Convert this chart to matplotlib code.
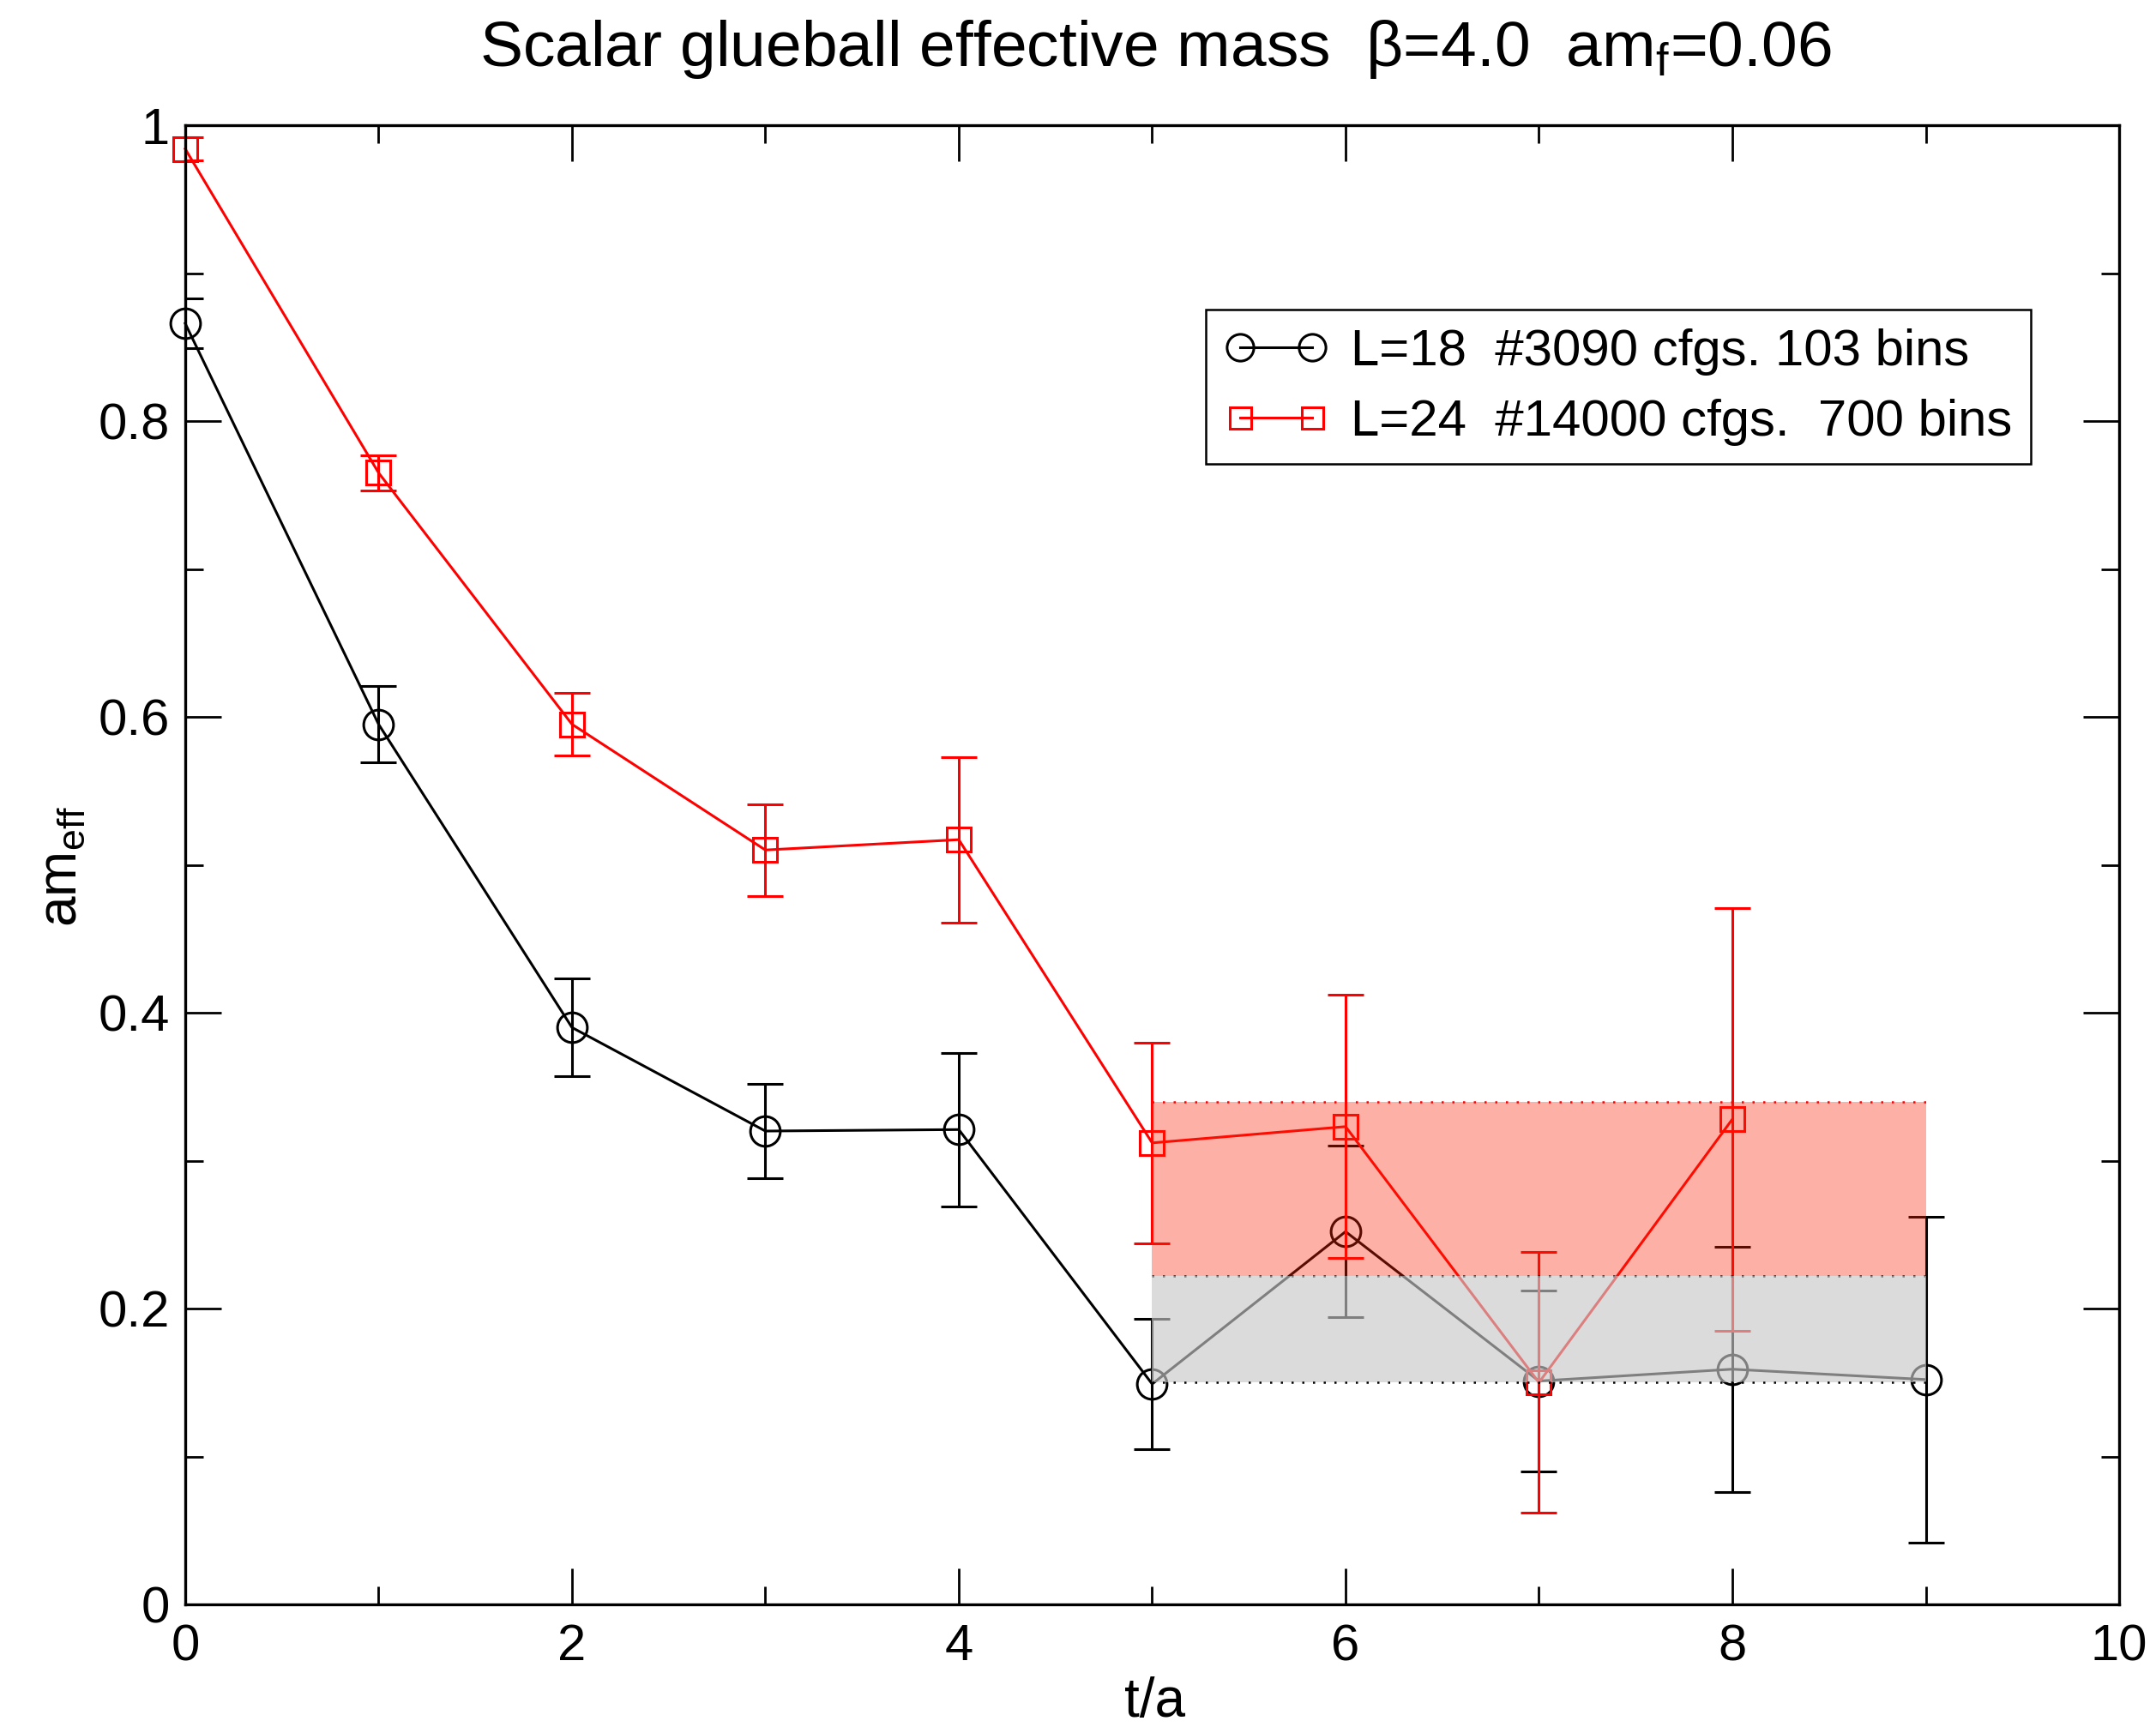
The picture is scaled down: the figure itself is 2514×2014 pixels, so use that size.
import numpy as np
import matplotlib
matplotlib.use('Agg')
import matplotlib.pyplot as plt
from matplotlib.ticker import MultipleLocator, FuncFormatter

plt.rcParams['font.family'] = ['Liberation Sans', 'DejaVu Sans']
plt.rcParams['mathtext.fontset'] = 'custom'
plt.rcParams['mathtext.rm'] = 'Liberation Sans'
plt.rcParams['mathtext.it'] = 'Liberation Sans:italic'

# data
t18 = [0, 1, 2, 3, 4, 5, 6, 7, 8, 9]
m18 = [0.866, 0.595, 0.390, 0.320, 0.321, 0.149, 0.252, 0.151, 0.159, 0.152]
e18 = [0.017, 0.026, 0.033, 0.032, 0.052, 0.044, 0.058, 0.061, 0.083, 0.110]

t24 = [0, 1, 2, 3, 4, 5, 6, 7, 8]
m24 = [0.984, 0.765, 0.595, 0.510, 0.517, 0.312, 0.323, 0.150, 0.328]
e24 = [0.008, 0.012, 0.021, 0.031, 0.056, 0.068, 0.089, 0.088, 0.143]

# fit bands (t range, lower, upper)
band_t = [5, 9]
band18 = [0.150, 0.222]
band24 = [0.222, 0.340]

lab18 = 'L=18  #3090 cfgs. 103 bins'
lab24 = 'L=24  #14000 cfgs.  700 bins'

fig = plt.figure(figsize=(25.14, 20.14), dpi=100)
ax = fig.add_axes([0.0859, 0.0710, 0.8970, 0.8565])

lw = 2.2
# error bars (clipped at the frame)
ax.errorbar(t18, m18, yerr=e18, fmt='none', ecolor='black', elinewidth=lw,
            capsize=15, capthick=lw, zorder=2)
ax.errorbar(t24, m24, yerr=e24, fmt='none', ecolor='red', elinewidth=lw,
            capsize=15, capthick=lw, zorder=2.2)
# lines + markers
ax.plot(t18, m18, '-o', color='black', lw=lw, ms=25, mfc='none', mew=lw,
        clip_on=False, zorder=2.1, label=lab18)
ax.plot(t24, m24, '-s', color='red', lw=lw, ms=20, mfc='none', mew=lw,
        clip_on=False, zorder=2.3, label=lab24)

# dotted band edges
dots = (0, (1, 4))
ax.plot(band_t, [band24[1]] * 2, color='red', lw=1.8, ls=dots, zorder=5)
ax.plot(band_t, [band24[0]] * 2, color='black', lw=1.8, ls=dots, zorder=3)
ax.plot(band_t, [band18[0]] * 2, color='black', lw=1.8, ls=dots, zorder=5)

# translucent bands drawn over the data
ax.fill_between(band_t, band24[0], band24[1], color=(250/255, 36/255, 8/255),
                alpha=0.36, lw=0, zorder=4)
ax.fill_between(band_t, band18[0], band18[1], color=(200/255, 200/255, 200/255),
                alpha=0.64, lw=0, zorder=4)

ax.set_xlim(0, 10)
ax.set_ylim(0, 1)
ax.xaxis.set_major_locator(MultipleLocator(2))
ax.xaxis.set_minor_locator(MultipleLocator(1))
ax.yaxis.set_major_locator(MultipleLocator(0.2))
ax.yaxis.set_minor_locator(MultipleLocator(0.1))
fmt = FuncFormatter(lambda v, p: '%g' % round(v, 6))
ax.xaxis.set_major_formatter(fmt)
ax.yaxis.set_major_formatter(fmt)

ax.tick_params(which='both', direction='in', top=True, right=True, width=2)
ax.tick_params(which='major', length=30, labelsize=43)
ax.tick_params(axis='x', which='major', pad=16)
ax.tick_params(axis='y', which='major', pad=13)
ax.tick_params(which='minor', length=15)
for s in ax.spines.values():
    s.set_linewidth(2.4)

fig.text(0.5358, 0.9618, r'Scalar glueball effective mass  β=4.0  am$_{\mathrm{f}}$=0.06',
         ha='center', va='baseline', fontsize=54)
fig.text(0.5358, 0.0062, 't/a', ha='center', va='baseline', fontsize=46)
fig.text(0.0285, 0.4985, r'am$_{\mathrm{eff}}$', ha='center', va='center',
         rotation=90, fontsize=46)

leg = ax.legend(loc='upper left', bbox_to_anchor=(0.5277, 0.8754), borderaxespad=0,
                fontsize=43.2, numpoints=2, handlelength=2.0, handletextpad=0.46,
                labelspacing=0.45, borderpad=0.36, fancybox=False, framealpha=1,
                edgecolor='black', markerscale=0.9)
leg.get_frame().set_linewidth(1.8)
leg.set_zorder(10)

fig.savefig('out.png', dpi=100)
